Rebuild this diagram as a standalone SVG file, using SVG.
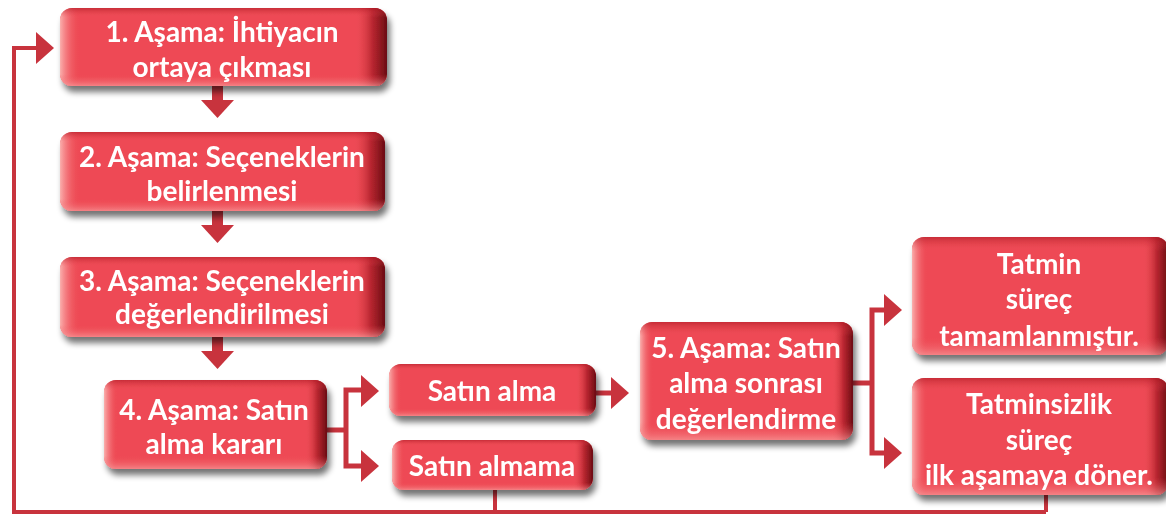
<svg xmlns="http://www.w3.org/2000/svg" width="1166" height="515" viewBox="0 0 1166 515">
<defs>
<linearGradient id="gh" x1="0" y1="0" x2="1" y2="0">
<stop offset="0" stop-color="#fbb5b2" stop-opacity="0.95"/>
<stop offset="0.06" stop-color="#ef4d57" stop-opacity="0"/>
<stop offset="0.9" stop-color="#ef4d57" stop-opacity="0"/>
<stop offset="0.955" stop-color="#b0202a" stop-opacity="0.85"/>
<stop offset="1" stop-color="#6a0c12" stop-opacity="1"/>
</linearGradient>
<linearGradient id="gv" x1="0" y1="0" x2="0" y2="1">
<stop offset="0" stop-color="#a8151f" stop-opacity="0.55"/>
<stop offset="0.12" stop-color="#ef4d57" stop-opacity="0"/>
<stop offset="0.85" stop-color="#ef4d57" stop-opacity="0"/>
<stop offset="1" stop-color="#f9a8a6" stop-opacity="0.6"/>
</linearGradient>
<filter id="sh" x="-10%" y="-10%" width="125%" height="135%">
<feGaussianBlur in="SourceAlpha" stdDeviation="3"/>
<feOffset dx="3" dy="6" result="b"/>
<feComponentTransfer><feFuncA type="linear" slope="0.55"/></feComponentTransfer>
<feMerge><feMergeNode/><feMergeNode in="SourceGraphic"/></feMerge>
</filter>
<style>
.base{fill:#ee4a55}
.h{fill:url(#gh)}
.v{fill:url(#gv)}
.t{font-family:"Lato","Open Sans","Liberation Sans",sans-serif;font-weight:bold;font-size:28px;fill:#ffffff;text-anchor:middle}
.ln{stroke:#c8333d;stroke-width:5;fill:none}
.lt{stroke:#c8333d;stroke-width:4;fill:none}
.ah{fill:#c8333d}
</style>
</defs>

<g id="connectors">
<rect class="ah" x="212" y="86" width="11" height="16"/>
<polygon class="ah" points="201,100 234,100 217.5,118"/>
<rect class="ah" x="212" y="211" width="11" height="16"/>
<polygon class="ah" points="201,225 234,225 217.5,243"/>
<rect class="ah" x="212" y="337" width="11" height="16"/>
<polygon class="ah" points="201,351 234,351 217.5,369"/>
<polyline class="ln" points="327,430 346,430"/>
<polyline class="ln" points="364,390 346,390 346,466 364,466"/>
<polygon class="ah" points="361,375 379,391 361,407"/>
<polygon class="ah" points="361,450 379,466 361,482"/>
<polyline class="ln" points="596,393 614,393"/>
<polygon class="ah" points="611,377 629,393 611,409"/>
<polyline class="ln" points="853,383 872,383"/>
<polyline class="ln" points="888,310 872,310 872,453 888,453"/>
<polygon class="ah" points="884,294 902,310 884,326"/>
<polygon class="ah" points="884,437 902,453 884,469"/>
<polyline class="lt" points="495,490 495,512"/>
<polyline class="lt" points="1046,495 1046,512"/>
<polyline class="lt" points="1046,512 14,512 14,48 38,48"/>
<polygon class="ah" points="36,32 54,48 36,64"/>
</g>

<g id="n1" filter="url(#sh)">
<rect class="base" x="60" y="8" width="327" height="78" rx="12"/>
<rect class="h" x="60" y="8" width="327" height="78" rx="12"/>
<rect class="v" x="60" y="8" width="327" height="78" rx="12"/>
<text class="t" x="222" y="42">1. Aşama: İhtiyacın</text>
<text class="t" x="222" y="77">ortaya çıkması</text>
</g>

<g id="n2" filter="url(#sh)">
<rect class="base" x="60" y="132" width="325" height="79" rx="12"/>
<rect class="h" x="60" y="132" width="325" height="79" rx="12"/>
<rect class="v" x="60" y="132" width="325" height="79" rx="12"/>
<text class="t" x="222" y="167">2. Aşama: Seçeneklerin</text>
<text class="t" x="222" y="201">belirlenmesi</text>
</g>

<g id="n3" filter="url(#sh)">
<rect class="base" x="60" y="257" width="325" height="80" rx="12"/>
<rect class="h" x="60" y="257" width="325" height="80" rx="12"/>
<rect class="v" x="60" y="257" width="325" height="80" rx="12"/>
<text class="t" x="222" y="291">3. Aşama: Seçeneklerin</text>
<text class="t" x="222" y="324">değerlendirilmesi</text>
</g>

<g id="n4" filter="url(#sh)">
<rect class="base" x="104" y="380" width="223" height="89" rx="12"/>
<rect class="h" x="104" y="380" width="223" height="89" rx="12"/>
<rect class="v" x="104" y="380" width="223" height="89" rx="12"/>
<text class="t" x="214" y="420">4. Aşama: Satın</text>
<text class="t" x="214" y="454">alma kararı</text>
</g>

<g id="n_satinalma" filter="url(#sh)">
<rect class="base" x="389" y="364" width="207" height="52" rx="12"/>
<rect class="h" x="389" y="364" width="207" height="52" rx="12"/>
<rect class="v" x="389" y="364" width="207" height="52" rx="12"/>
<text class="t" x="492" y="401">Satın alma</text>
</g>

<g id="n_satinalmama" filter="url(#sh)">
<rect class="base" x="392" y="440" width="201" height="50" rx="12"/>
<rect class="h" x="392" y="440" width="201" height="50" rx="12"/>
<rect class="v" x="392" y="440" width="201" height="50" rx="12"/>
<text class="t" x="492" y="476">Satın almama</text>
</g>

<g id="n5" filter="url(#sh)">
<rect class="base" x="640" y="322" width="213" height="118" rx="12"/>
<rect class="h" x="640" y="322" width="213" height="118" rx="12"/>
<rect class="v" x="640" y="322" width="213" height="118" rx="12"/>
<text class="t" x="746" y="358">5. Aşama: Satın</text>
<text class="t" x="746" y="393">alma sonrası</text>
<text class="t" x="746" y="429">değerlendirme</text>
</g>

<g id="n_tatmin" filter="url(#sh)">
<rect class="base" x="912" y="237" width="256" height="118" rx="12"/>
<rect class="h" x="912" y="237" width="256" height="118" rx="12"/>
<rect class="v" x="912" y="237" width="256" height="118" rx="12"/>
<text class="t" x="1039" y="274">Tatmin</text>
<text class="t" x="1039" y="309">süreç</text>
<text class="t" x="1039" y="346">tamamlanmıştır.</text>
</g>

<g id="n_tatminsizlik" filter="url(#sh)">
<rect class="base" x="912" y="378" width="256" height="117" rx="12"/>
<rect class="h" x="912" y="378" width="256" height="117" rx="12"/>
<rect class="v" x="912" y="378" width="256" height="117" rx="12"/>
<text class="t" x="1039" y="414">Tatminsizlik</text>
<text class="t" x="1039" y="450">süreç</text>
<text class="t" x="1039" y="485">ilk aşamaya döner.</text>
</g>
</svg>
